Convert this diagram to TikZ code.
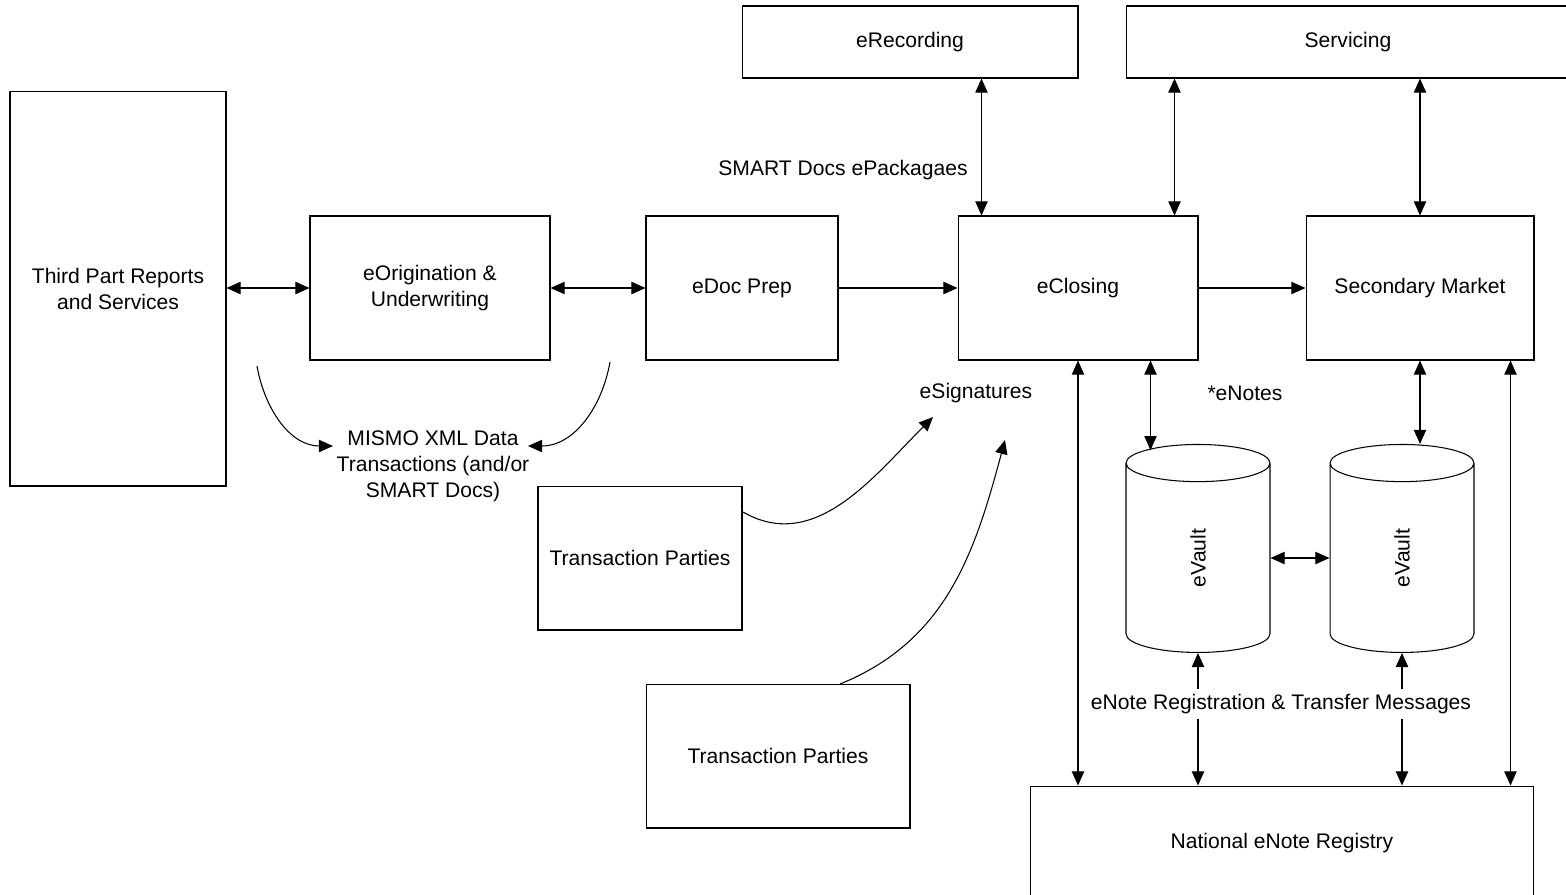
\documentclass[tikz,border=0pt]{standalone}
\usepackage{fontspec}
\setmainfont{Liberation Sans}
\usetikzlibrary{shapes.geometric, arrows.meta, calc}

\begin{document}
\begin{tikzpicture}[x=0.02cm, y=-0.02cm, line width=0.6pt,
            font=\fontsize{12}{14.8}\selectfont,
            >={Triangle[length=8pt, width=7pt]},
            blk/.style={draw, rectangle, align=center, inner sep=0pt},
            vault/.style={draw, cylinder, rotate=90, aspect=2.4, inner sep=0pt,
                          minimum width=2.88cm, minimum height=4.16cm}]
            \useasboundingbox (0,0) rectangle (1566,894);
            % boxes
            \node[blk, minimum width=4.32cm, minimum height=7.9cm] (third) at (118,288.5) {Third Part Reports\\and Services};
            \foreach \n/\x/\w/\t in {orig/430/4.8/{eOrigination \&\\Underwriting}, prep/742/3.84/{eDoc Prep},
                                     close/1078/4.8/{eClosing}, second/1420/4.56/{Secondary Market}}{
                \node[blk, minimum width=\w cm, minimum height=2.88cm] (\n) at (\x,288) {\t};}
            \node[blk, minimum width=6.72cm, minimum height=1.44cm] (erec) at (910,42) {eRecording};
            \node[blk, minimum width=8.88cm, minimum height=1.44cm] (serv) at (1348,42) {Servicing};
            \node[blk, minimum width=4.08cm, minimum height=2.88cm] (tp1) at (640,558) {Transaction Parties};
            \node[blk, minimum width=5.28cm, minimum height=2.88cm] (tp2) at (778,756) {Transaction Parties};
            \node[blk, minimum width=10.08cm, minimum height=2.28cm] (reg) at (1282,843) {National eNote Registry};
            \node[vault] (v1) at (1198,558) {eVault};
            \node[vault] (v2) at (1402,558) {eVault};
            % labels
            \node (pkg) at (843,170) {SMART Docs ePackagaes};
            \node (esig) at (976,393) {eSignatures};
            \node (enotes) at (1245,393) {*eNotes};
            \node[align=center] (mismo) at (433,466) {MISMO XML Data\\Transactions (and/or\\SMART Docs)};
            % connectors
            \draw[<->] (third.east |- orig.west) -- (orig.west);
            \draw[<->] (orig.east) -- (prep.west);
            \draw[->] (prep.east) -- (close.west);
            \draw[->] (close.east) -- (second.west);
            \coordinate (c1) at ($(close.north west)+(24,0)$);
            \coordinate (c2) at ($(close.north east)+(-24,0)$);
            \coordinate (c3) at ($(close.south east)+(-48,0)$);
            \coordinate (c4) at ($(second.south east)+(-24,0)$);
            \draw[<->] (c1) -- (c1 |- erec.south);
            \draw[<->] (c2) -- (c2 |- serv.south);
            \draw[<->] (second.north) -- (second.north |- serv.south);
            \draw[<->, shorten >=-3.5pt] (c3) -- (c3 |- v1.east);
            \draw[<->] (second.south) -- (second.south |- v2.east);
            \draw[<->] (close.south) -- (close.south |- reg.north);
            \draw[<->] (c4) -- (c4 |- reg.north);
            \draw[<->] (v1.west) -- (v1.west |- reg.north);
            \draw[<->] (v2.west) -- (v2.west |- reg.north);
            \draw[<->] (v1.south) -- (v2.north);
            \node[fill=white, inner sep=3pt] (msg) at (1281,704) {eNote Registration \& Transfer Messages};
            % curved ones
            \coordinate (m1) at (257,366);
            \coordinate (m1e) at (333,446);
            \coordinate (m2) at (610,362);
            \coordinate (m2e) at (528,446);
            \coordinate (s1) at (743,512);
            \coordinate (s1e) at (933,417);
            \coordinate (s2) at (840,684);
            \coordinate (s2e) at (1005,440);
            \draw[->] (m1) to[out=-80, in=180] (m1e);
            \draw[->] (m2) to[out=-100, in=0] (m2e);
            \draw[->] (s1) to[out=-30, in=225] (s1e);
            \draw[->] (s2) to[out=22, in=-105] (s2e);
        \end{tikzpicture}
\end{document}
